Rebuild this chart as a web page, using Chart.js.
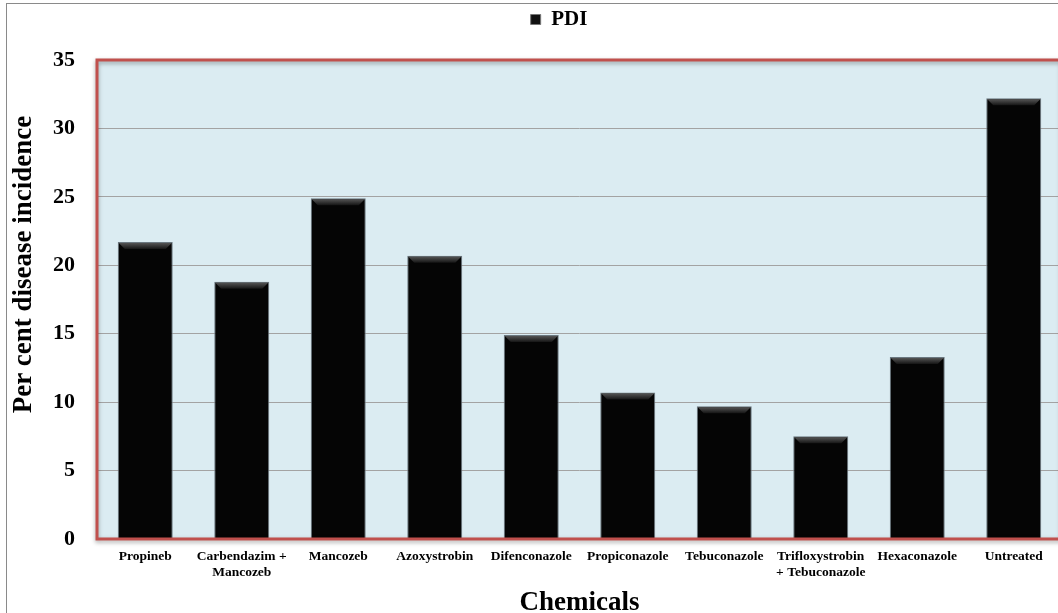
<!DOCTYPE html>
<html><head><meta charset="utf-8">
<script src="https://cdn.jsdelivr.net/npm/chart.js@4.4.1/dist/chart.umd.min.js"></script>
<style>
html,body{margin:0;padding:0;overflow:hidden;background:#fff;width:1058px;height:613px;}
#frame{position:absolute;left:6px;top:3px;width:1100px;height:700px;border-left:1px solid #8a8a8a;border-top:1px solid #8a8a8a;pointer-events:none;}
#wrap{position:absolute;left:0;top:0;width:1066px;height:613px;}
</style></head><body>
<div id="wrap"><canvas id="c" width="1066" height="613"></canvas></div>
<div id="frame"></div>
<script>
const categories = ["Propineb", ["Carbendazim +","Mancozeb"], "Mancozeb", "Azoxystrobin", "Difenconazole", "Propiconazole", "Tebuconazole", ["Trifloxystrobin","+ Tebuconazole"], "Hexaconazole", "Untreated"];
const pdiValues = [21.7, 18.8, 24.9, 20.7, 14.9, 10.7, 9.7, 7.5, 13.3, 32.2];
const yTicks = [0, 5, 10, 15, 20, 25, 30, 35];
const seriesName = "PDI";

const serif = "'Liberation Serif', 'Times New Roman', serif";

function shiftTitle(scale, dx, dy) {
  if (!scale || scale._titleShifted) return;
  const origTitle = scale.drawTitle.bind(scale);
  scale.drawTitle = function () {
    const ctx = this.ctx;
    ctx.save();
    ctx.translate(dx, dy);
    origTitle();
    ctx.restore();
  };
  scale._titleShifted = true;
}

const plotDeco = {
  id: 'plotDeco',
  afterInit(chart) {
    const lg = chart.legend;
    if (lg) {
      const orig = lg.fit.bind(lg);
      lg.fit = function () { orig(); this.height += 20; };
    }
  },
  afterLayout(chart) {
    const lg = chart.legend;
    if (lg) { lg.left += 28; lg.right += 28; }
    shiftTitle(chart.scales.y, 0, -35);
    shiftTitle(chart.scales.x, 0, 6);
  },
  beforeDraw(chart) {
    const a = chart.chartArea, ctx = chart.ctx;
    ctx.save();
    ctx.fillStyle = '#dbecf2';
    ctx.fillRect(a.left, a.top, a.right - a.left, a.bottom - a.top);
    ctx.restore();
  },
  afterDatasetsDraw(chart) {
    const ctx = chart.ctx;
    const meta = chart.getDatasetMeta(0);
    ctx.save();
    meta.data.forEach(bar => {
      const w = bar.width, l = bar.x - w / 2, r = bar.x + w / 2, t = bar.y;
      const b = 7;
      const g = ctx.createLinearGradient(0, t, 0, t + b);
      g.addColorStop(0, '#5e5e5e');
      g.addColorStop(1, '#151515');
      ctx.fillStyle = g;
      ctx.beginPath();
      ctx.moveTo(l + 1, t + 1); ctx.lineTo(r - 1, t + 1); ctx.lineTo(r - b, t + b); ctx.lineTo(l + b, t + b); ctx.closePath();
      ctx.fill();
    });
    ctx.restore();
  },
  afterDraw(chart) {
    const a = chart.chartArea, ctx = chart.ctx;
    ctx.save();
    ctx.shadowColor = 'rgba(0,0,0,0.35)';
    ctx.shadowBlur = 4;
    ctx.shadowOffsetY = 2;
    ctx.strokeStyle = '#c0504d';
    ctx.lineWidth = 3;
    ctx.strokeRect(a.left, a.top, a.right - a.left, a.bottom - a.top);
    ctx.restore();
  }
};

new Chart(document.getElementById('c'), {
  type: 'bar',
  data: {
    labels: categories,
    datasets: [{
      label: seriesName,
      data: pdiValues,
      backgroundColor: '#050505',
      borderColor: '#6b7880',
      borderWidth: 1,
      categoryPercentage: 1.0,
      barPercentage: 0.57
    }]
  },
  options: {
    responsive: false,
    animation: false,
    layout: { padding: { top: 3, right: 4, left: 0, bottom: 0 } },
    plugins: {
      legend: {
        display: true,
        position: 'top',
        labels: {
          color: '#000',
          font: { family: serif, size: 21, weight: 'bold' },
          boxWidth: 10, boxHeight: 10, padding: 6,
          generateLabels: () => [{ text: seriesName, fillStyle: '#111', strokeStyle: '#777', lineWidth: 1, fontColor: '#000' }]
        }
      },
      tooltip: { enabled: false }
    },
    scales: {
      x: {
        grid: { display: false, drawTicks: false },
        border: { display: false },
        ticks: { color: '#000', font: { family: serif, size: 13.5, weight: 'bold' }, maxRotation: 0, autoSkip: false, padding: 9 },
        title: { display: true, text: 'Chemicals', color: '#000', font: { family: serif, size: 27, weight: 'bold' }, padding: { top: 16, bottom: 0 } },
        afterFit(s) { s.height = 74; }
      },
      y: {
        min: 0, max: 35,
        afterBuildTicks(s) { s.ticks = yTicks.map(v => ({ value: v })); },
        grid: { color: '#a3a3a3', lineWidth: 1, drawTicks: false },
        border: { display: false },
        ticks: { color: '#000', font: { family: serif, size: 22, weight: 'bold' }, padding: 22 },
        title: { display: true, text: 'Per cent disease incidence', color: '#000', font: { family: serif, size: 27, weight: 'bold' }, padding: { top: 8, bottom: 4 } },
        afterFit(s) { s.width = 97; }
      }
    }
  },
  plugins: [plotDeco]
});
</script>
</body></html>
